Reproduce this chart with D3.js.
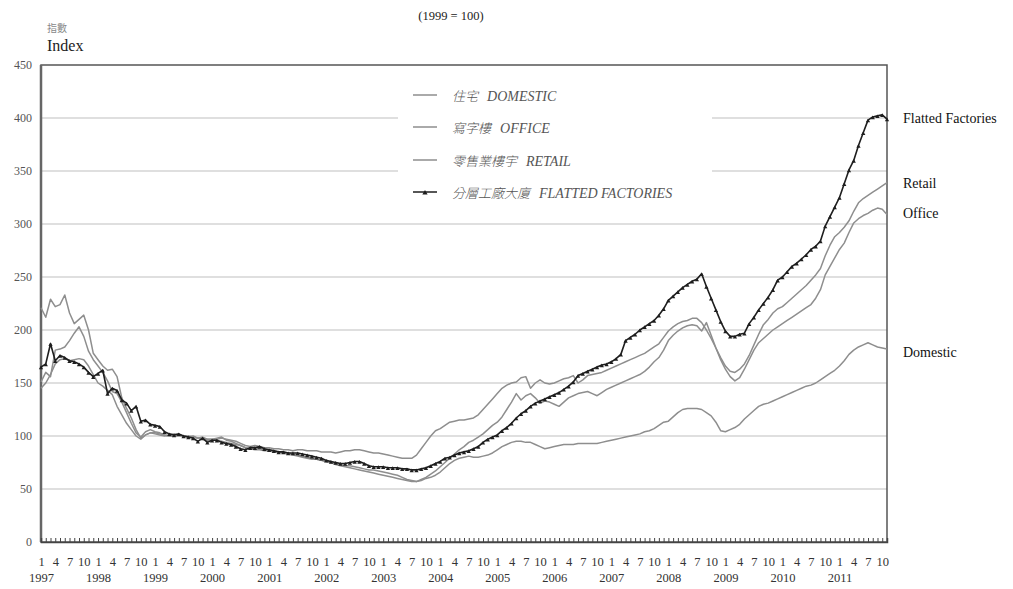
<!DOCTYPE html>
<html>
<head>
<meta charset="utf-8">
<script src="https://cdn.jsdelivr.net/npm/d3@7"></script>
<style>
body { margin: 0; background: #fff; }
text { font-family: "Liberation Serif", "Times New Roman", serif; }
</style>
</head>
<body>
<svg id="chart" width="1013" height="589"></svg>
<script>
// monthly index, Jan 1997 .. Nov 2011 (1999 = 100)
var years = [1997,1998,1999,2000,2001,2002,2003,2004,2005,2006,2007,2008,2009,2010,2011];
var monthLabels = [1, 4, 7, 10];
var yTicks = [0, 50, 100, 150, 200, 250, 300, 350, 400, 450];

var domestic = [
  145,150,158,168,172,173,171,172,173,172,166,158,
  150,147,143,139,128,120,112,106,100,97,101,103,
  102,101,100,101,102,101,100,100,99,98,97,96,
  96,96,95,94,93,92,91,89,88,87,87,86,
  86,85,85,84,84,83,82,81,80,79,78,77,
  76,75,74,73,72,72,71,70,69,68,68,67,
  66,65,64,63,61,59,58,57,58,60,61,63,
  66,70,74,77,79,80,81,80,80,81,82,84,
  87,90,92,94,95,95,94,94,92,90,88,89,
  90,91,92,92,92,93,93,93,93,93,94,95,
  96,97,98,99,100,101,102,104,105,107,110,113,
  114,118,122,125,126,126,126,125,122,119,113,105,
  104,106,108,111,116,120,124,128,130,131,133,135,
  137,139,141,143,145,147,148,150,153,156,159,162,
  166,171,177,181,184,186,188,186,184,183,182
];
var office = [
  221,212,229,222,224,233,216,206,210,214,200,178,
  172,166,162,163,156,136,126,117,106,98,101,103,
  103,102,101,100,100,100,100,99,100,98,99,97,
  97,98,99,96,95,93,91,89,88,89,88,87,
  87,86,85,84,83,82,81,80,79,78,78,77,
  76,75,73,72,71,70,69,68,67,66,65,64,
  63,62,61,60,59,58,57,57,59,61,64,67,
  71,75,79,83,87,90,94,96,99,102,106,110,
  113,118,125,132,140,134,138,140,136,131,133,132,
  130,128,132,136,138,140,141,142,140,138,141,144,
  146,148,150,152,154,156,158,161,165,170,174,181,
  190,195,199,202,204,205,204,199,207,195,183,172,
  163,156,152,155,163,172,181,188,192,196,200,203,
  206,209,212,215,218,221,224,230,238,252,260,268,
  276,282,292,301,305,308,310,313,315,314,309
];
var retail = [
  151,160,156,181,182,184,190,197,203,194,180,172,
  166,160,152,142,140,132,122,112,103,99,104,106,
  104,103,101,100,100,101,100,99,99,98,98,97,
  97,97,98,97,96,95,93,91,90,91,90,89,
  89,88,88,87,87,86,87,87,86,86,86,85,
  85,85,84,85,86,86,87,87,86,85,84,84,
  83,82,81,80,79,79,79,82,88,94,100,105,
  107,110,113,114,115,115,116,117,120,125,130,135,
  140,145,148,150,151,155,156,145,150,153,150,149,
  150,152,154,155,157,150,153,157,158,159,160,162,
  164,166,168,170,172,174,176,178,181,184,187,193,
  199,203,206,208,209,211,211,207,200,192,183,174,
  166,161,160,163,168,176,186,196,205,210,216,220,
  222,226,230,234,238,242,247,252,258,270,280,288,
  292,297,303,312,320,324,327,330,333,336,339
];
var flatted = [
  165,168,187,171,176,174,171,170,168,165,160,156,
  159,162,140,145,143,134,131,124,128,114,115,111,
  110,109,104,102,101,102,100,99,98,95,98,94,
  96,96,94,93,92,90,88,87,89,89,90,88,
  87,86,85,85,84,84,84,83,82,81,80,79,
  77,76,75,74,74,75,76,76,74,72,71,71,
  71,70,70,70,69,69,68,68,69,70,72,74,
  76,79,80,82,84,85,86,88,90,94,97,99,
  101,105,108,112,117,121,124,128,131,133,135,137,
  139,141,144,147,151,157,159,161,163,165,167,168,
  170,173,177,190,193,196,200,203,206,209,214,220,
  228,232,236,240,243,246,248,253,241,230,219,208,
  199,194,194,196,197,206,212,219,225,231,238,247,
  250,255,260,263,267,271,276,279,284,298,307,316,
  325,338,351,360,374,386,398,401,402,403,399
];

var series = [
  { key: "domestic", values: domestic, color: "#8e8e8e", legend: "住宅", legendEn: "DOMESTIC", label: "Domestic", nudge: 3 },
  { key: "office", values: office, color: "#8e8e8e", legend: "寫字樓", legendEn: "OFFICE", label: "Office", nudge: -1 },
  { key: "retail", values: retail, color: "#8e8e8e", legend: "零售業樓宇", legendEn: "RETAIL", label: "Retail", nudge: 0 },
  { key: "flatted", values: flatted, color: "#1e1e1e", legend: "分層工廠大廈", legendEn: "FLATTED FACTORIES", label: "Flatted Factories", nudge: -1, marker: true }
];

var svg = d3.select("#chart");
// note: "top" is reserved on window, so plot edges get their own names
var plotL = 41, plotR = 887, plotT = 65, plotB = 542;
var nMonths = domestic.length;

var x = d3.scaleLinear().domain([0, nMonths - 1]).range([plotL, plotR]);
var y = d3.scaleLinear().domain([0, 450]).range([plotB, plotT]);

// grid
svg.append("g").selectAll("line")
  .data(yTicks.filter(function(d) { return d > 0 && d < 450; }))
  .enter().append("line")
    .attr("x1", plotL).attr("x2", plotR)
    .attr("y1", function(d) { return y(d); })
    .attr("y2", function(d) { return y(d); })
    .attr("stroke", "#d4d4d4")
    .attr("stroke-width", 1.5);

// legend background hides the grid behind it
var lg = svg.append("g");
lg.append("rect")
  .attr("x", 398).attr("y", 77).attr("width", 314).attr("height", 130)
  .attr("fill", "#fff");

// frame
svg.append("rect")
  .attr("x", plotL).attr("y", plotT).attr("width", plotR - plotL).attr("height", plotB - plotT)
  .attr("fill", "none").attr("stroke", "#555").attr("stroke-width", 1.5);
svg.append("line")
  .attr("x1", plotL).attr("x2", plotL).attr("y1", plotT).attr("y2", plotB)
  .attr("stroke", "#666").attr("stroke-width", 2.5);

// y axis labels
var yAxis = svg.append("g")
  .attr("transform", "translate(" + plotL + ",0)")
  .call(d3.axisLeft(y).tickValues(yTicks).tickSize(0).tickPadding(9));
yAxis.select(".domain").remove();
yAxis.selectAll("text")
  .style("font-family", "Liberation Serif, serif")
  .style("font-size", "12px")
  .attr("fill", "#555");

// monthly ticks inside the bottom
var mt = svg.append("g")
  .attr("transform", "translate(0," + plotB + ")")
  .call(d3.axisBottom(x).tickValues(d3.range(nMonths)).tickSize(-4).tickFormat(""));
mt.select(".domain").attr("stroke", "#444").attr("stroke-width", 1.5);
mt.selectAll(".tick line").attr("stroke", "#444");

// month labels 1 4 7 10
var monthTicks = [];
years.forEach(function(yr, k) {
  monthLabels.forEach(function(m) {
    var idx = k * 12 + m - 1;
    if (idx < nMonths) monthTicks.push(idx);
  });
});
var mAxis = svg.append("g")
  .attr("transform", "translate(0," + plotB + ")")
  .call(d3.axisBottom(x)
    .tickValues(monthTicks)
    .tickFormat(function(d) { return (d % 12) + 1; })
    .tickSize(0).tickPadding(15));
mAxis.select(".domain").remove();
mAxis.selectAll("text").style("font-family", "Liberation Serif, serif").style("font-size", "12.5px").attr("fill", "#333");

// year labels
var yrAxis = svg.append("g")
  .attr("transform", "translate(0," + plotB + ")")
  .call(d3.axisBottom(x)
    .tickValues(years.map(function(yr, k) { return k * 12; }))
    .tickFormat(function(d) { return years[d / 12]; })
    .tickSize(0).tickPadding(31));
yrAxis.select(".domain").remove();
yrAxis.selectAll("text").style("font-family", "Liberation Serif, serif").style("font-size", "12.5px").attr("fill", "#333");

// series
var line = d3.line()
  .x(function(d, i) { return x(i); })
  .y(function(d) { return y(d); });

series.forEach(function(s) {
  svg.append("path")
    .datum(s.values)
    .attr("fill", "none")
    .attr("stroke", s.color)
    .attr("stroke-width", s.marker ? 1.6 : 1.5)
    .attr("stroke-linejoin", "round")
    .attr("d", line);
  if (s.marker) {
    svg.append("g").selectAll("path")
      .data(s.values)
      .enter().append("path")
        .attr("d", d3.symbol().type(d3.symbolTriangle).size(8))
        .attr("transform", function(d, i) { return "translate(" + x(i) + "," + (y(d) + 1) + ")"; })
        .attr("fill", "#1e1e1e");
  }
  // end label
  var last = s.values[s.values.length - 1];
  svg.append("text")
    .attr("x", 903)
    .attr("y", y(last) + s.nudge)
    .attr("dy", "0.35em")
    .style("font-size", "14px")
    .attr("fill", "#111")
    .text(s.label);
});

// legend
var legendY = [95, 127, 160, 192];
series.forEach(function(s, k) {
  var g = lg.append("g").attr("transform", "translate(413," + legendY[k] + ")");
  g.append("line").attr("x1", 0).attr("x2", 24).attr("y1", 0).attr("y2", 0)
    .attr("stroke", s.color).attr("stroke-width", 1.5);
  if (s.marker) {
    g.append("path").attr("d", d3.symbol().type(d3.symbolTriangle).size(12))
      .attr("transform", "translate(12,1)").attr("fill", "#1e1e1e");
  }
  var t = g.append("text")
    .attr("x", 39).attr("dy", "0.35em")
    .style("font-style", "italic")
    .attr("fill", "#555");
  t.append("tspan")
    .style("font-family", "'Noto Sans CJK TC', sans-serif")
    .style("font-size", "13px")
    .style("font-weight", "300")
    .text(s.legend);
  t.append("tspan")
    .attr("dx", 9)
    .style("font-family", "Liberation Serif, serif")
    .style("font-size", "14px")
    .text(s.legendEn);
});

// titles
svg.append("text").attr("x", 451).attr("y", 20).attr("text-anchor", "middle")
  .style("font-size", "12.5px").attr("fill", "#222").text("(1999 = 100)");
svg.append("text").attr("x", 47).attr("y", 32)
  .style("font-family", "'Noto Sans CJK TC', sans-serif")
  .style("font-size", "10px").attr("fill", "#888").text("指數");
svg.append("text").attr("x", 47).attr("y", 51)
  .style("font-size", "16px").attr("fill", "#222").text("Index");
</script>
</body>
</html>
